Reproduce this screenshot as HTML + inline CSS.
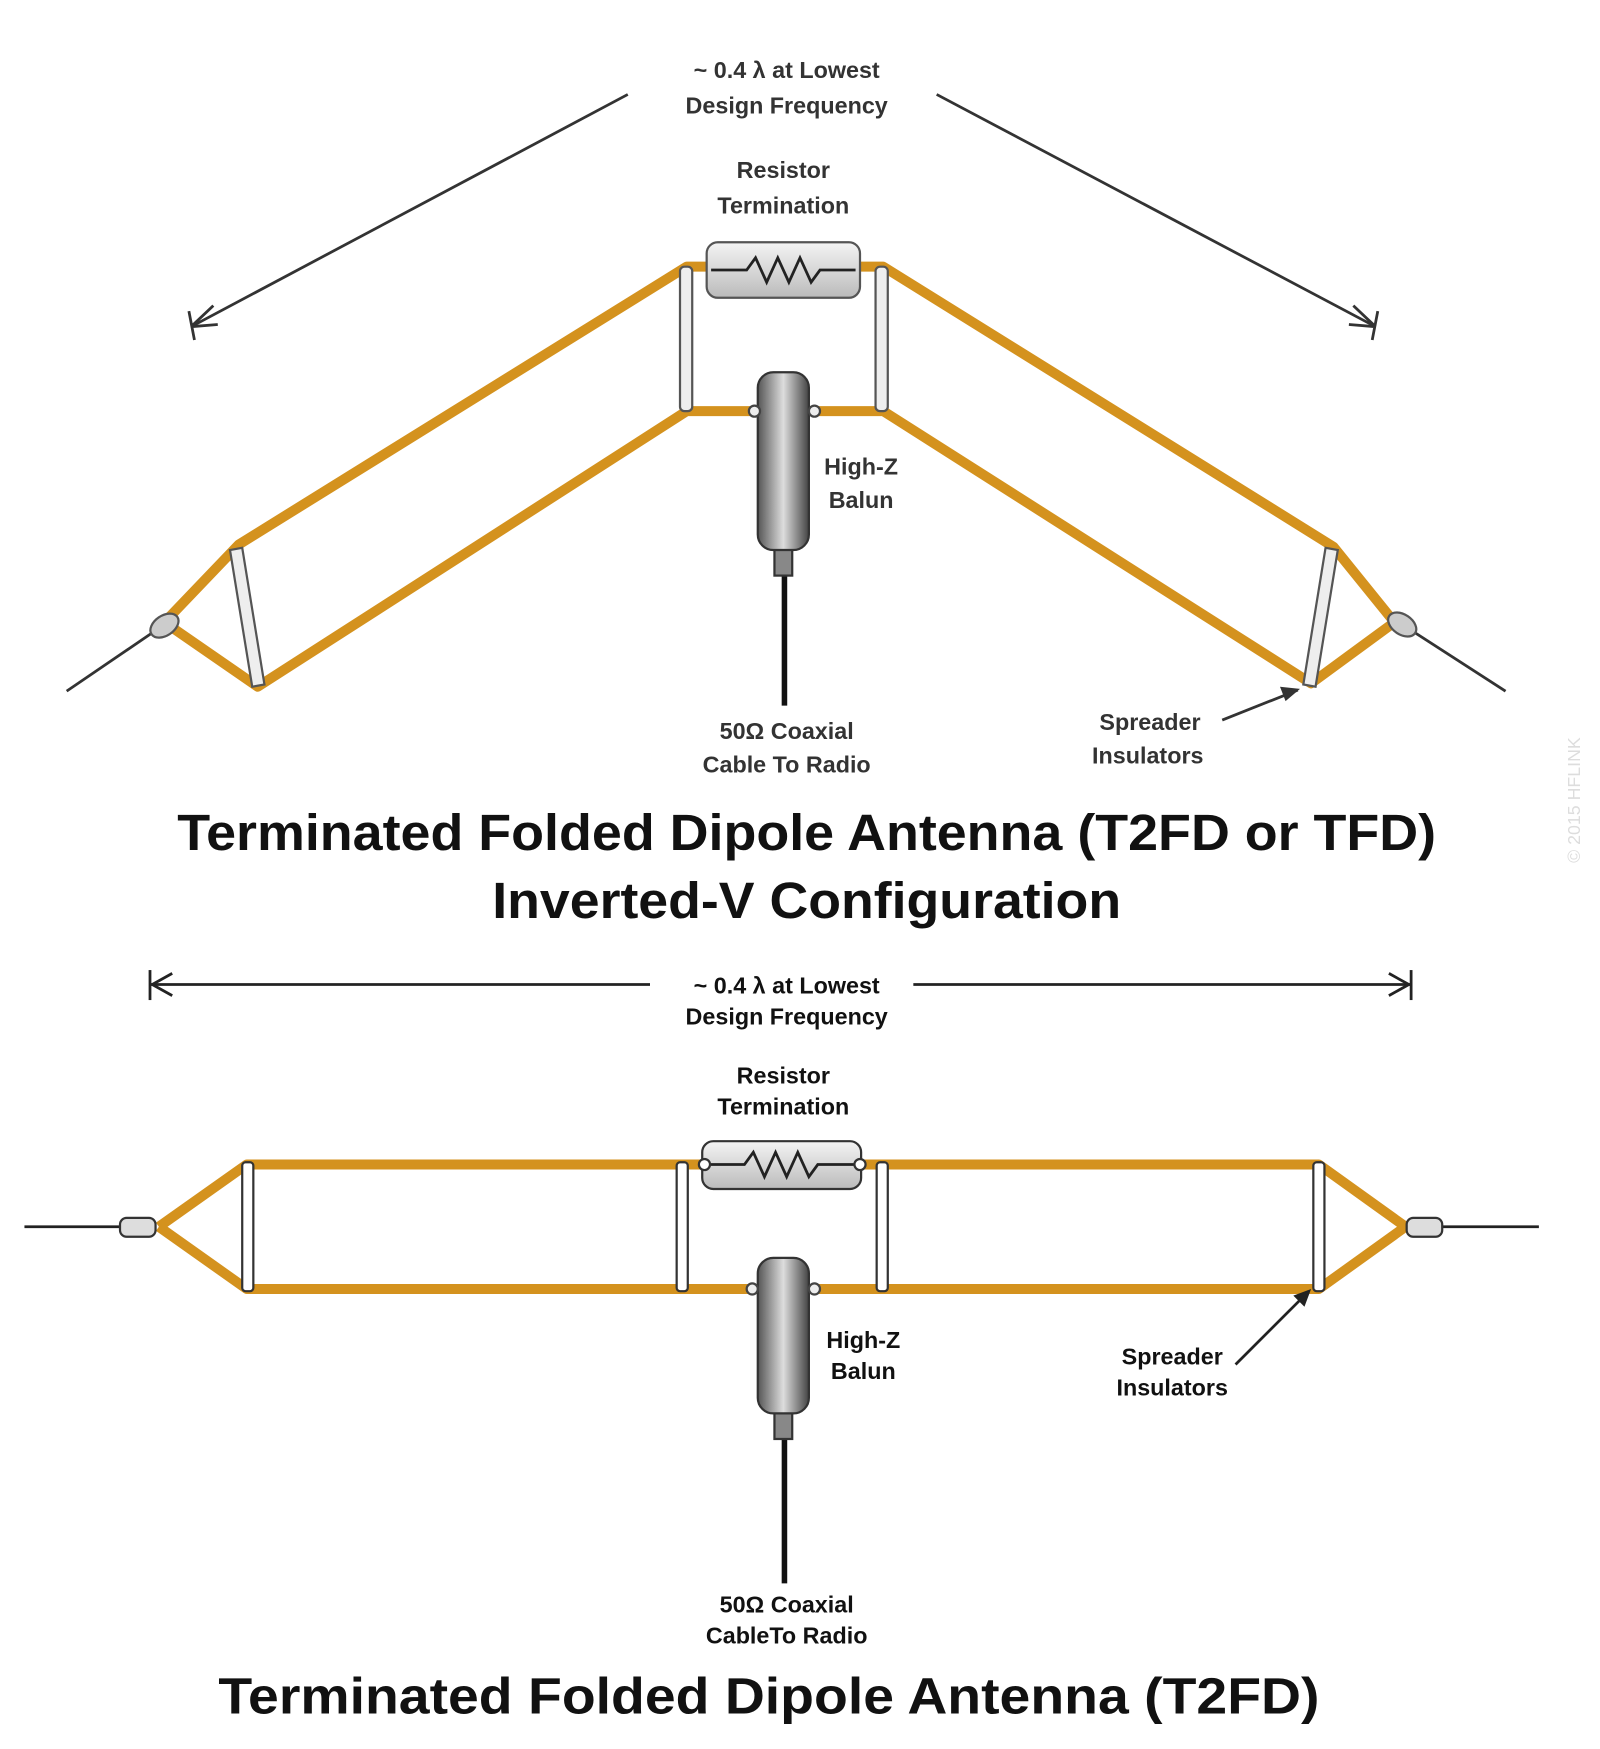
<!DOCTYPE html>
<html><head><meta charset="utf-8"><style>
html,body{margin:0;padding:0;background:#fff}
svg{display:block}
text{font-family:"Liberation Sans",sans-serif;fill:#111;text-anchor:middle}
.s{font-size:21px;font-weight:bold}
.u{fill:#333}
.t{font-size:46px;font-weight:bold}
</style></head><body>
<svg width="1600" height="1749" viewBox="0 0 1440 1574" preserveAspectRatio="none" xmlns="http://www.w3.org/2000/svg">
<defs>
<linearGradient id="g" x1="0" x2="1"><stop offset="0" stop-color="#555"/><stop offset="0.5" stop-color="#ddd"/><stop offset="1" stop-color="#444"/></linearGradient>
<linearGradient id="r" x1="0" y1="0" x2="0" y2="1"><stop offset="0" stop-color="#f4f4f4"/><stop offset="1" stop-color="#bbb"/></linearGradient>
</defs>
<!-- TOP -->
<g stroke="#333" stroke-width="2.5" fill="none">
<line x1="565" y1="85" x2="172" y2="294"/><path d="M170 280 L175 306 M172 294 L192 275 M172 294 L196 292"/>
<line x1="843" y1="85" x2="1238" y2="294"/><path d="M1240 280 L1235 306 M1238 294 L1214 292 M1238 294 L1218 275"/>
<line x1="60" y1="622" x2="148" y2="562"/><line x1="1262" y1="562" x2="1355" y2="622"/>
</g>
<text class="s u" x="708" y="70">~ 0.4 λ at Lowest</text>
<text class="s u" x="708" y="102">Design Frequency</text>
<text class="s u" x="705" y="160">Resistor</text>
<text class="s u" x="705" y="192">Termination</text>
<g stroke="#d4921e" stroke-width="9" fill="none" stroke-linejoin="round">
<polyline points="148,560 215,490 618,240 795,240 1200,492 1255,560 1180,615 795,370 618,370 232,618 148,560"/>
</g>
<g stroke="#555" stroke-width="2" fill="#eee">
<rect x="612" y="240" width="11" height="130" rx="4"/>
<rect x="788" y="240" width="11" height="130" rx="4"/>
<path d="M207 495 L218 493 L238 616 L227 618 Z"/>
<path d="M1193 493 L1204 495 L1184 618 L1173 616 Z"/>
<ellipse cx="148" cy="563" rx="14" ry="9" transform="rotate(-34 148 563)" fill="#ccc"/>
<ellipse cx="1262" cy="562" rx="14" ry="9" transform="rotate(34 1262 562)" fill="#ccc"/>
<rect x="636" y="218" width="138" height="50" rx="10" fill="url(#r)"/>
</g>
<polyline points="640,243 672,243 680,232 690,254 700,232 710,254 720,232 730,254 738,243 770,243" stroke="#222" stroke-width="2.5" fill="none"/>
<line x1="706" y1="518" x2="706" y2="635" stroke="#111" stroke-width="5"/>
<rect x="697" y="493" width="16" height="25" fill="#888" stroke="#333" stroke-width="2"/>
<rect x="682" y="335" width="46" height="160" rx="14" fill="url(#g)" stroke="#333" stroke-width="2"/>
<circle cx="679" cy="370" r="5" fill="#eee" stroke="#444" stroke-width="2"/><circle cx="733" cy="370" r="5" fill="#eee" stroke="#444" stroke-width="2"/>
<text class="s u" x="775" y="427">High-Z</text><text class="s u" x="775" y="457">Balun</text>
<text class="s u" x="708" y="665">50Ω Coaxial</text><text class="s u" x="708" y="695">Cable To Radio</text>
<text class="s u" x="1035" y="657">Spreader</text><text class="s u" x="1033" y="687">Insulators</text>
<line x1="1100" y1="648" x2="1168" y2="621" stroke="#333" stroke-width="2.5"/><path d="M1170 620 L1152 618 L1157 631 Z" fill="#333"/>
<text class="t" x="726" y="765" fill="#222" textLength="1133" lengthAdjust="spacingAndGlyphs">Terminated Folded Dipole Antenna (T2FD or TFD)</text>
<text class="t" x="726" y="826" textLength="566" lengthAdjust="spacingAndGlyphs">Inverted-V Configuration</text>
<text x="1422" y="720" transform="rotate(-90 1422 720)" style="font-size:16px;fill:#ddd">© 2015 HFLINK</text>
<!-- BOTTOM -->
<g stroke="#222" stroke-width="2.5" fill="none">
<line x1="135" y1="886" x2="585" y2="886"/><line x1="822" y1="886" x2="1270" y2="886"/>
<line x1="135" y1="873" x2="135" y2="900"/><path d="M155 876 L137 886 L155 896"/>
<line x1="1270" y1="873" x2="1270" y2="900"/><path d="M1250 876 L1268 886 L1250 896"/>
<line x1="22" y1="1104" x2="108" y2="1104"/><line x1="1298" y1="1104" x2="1385" y2="1104"/>
</g>
<text class="s" x="708" y="894">~ 0.4 λ at Lowest</text>
<text class="s" x="708" y="922">Design Frequency</text>
<text class="s" x="705" y="975">Resistor</text>
<text class="s" x="705" y="1003">Termination</text>
<g stroke="#d4921e" stroke-width="9" fill="none" stroke-linejoin="round">
<polyline points="143,1104 222,1048 1187,1048 1265,1104 1187,1160 222,1160 143,1104"/>
</g>
<g stroke="#333" stroke-width="2" fill="#fff">
<rect x="218" y="1046" width="10" height="116" rx="3"/>
<rect x="609" y="1046" width="10" height="116" rx="3"/>
<rect x="789" y="1046" width="10" height="116" rx="3"/>
<rect x="1182" y="1046" width="10" height="116" rx="3"/>
<rect x="108" y="1096" width="32" height="17" rx="6" fill="#ddd"/>
<rect x="1266" y="1096" width="32" height="17" rx="6" fill="#ddd"/>
<rect x="632" y="1027" width="143" height="43" rx="10" fill="url(#r)"/>
</g>
<polyline points="636,1048 670,1048 678,1037 688,1059 698,1037 708,1059 718,1037 728,1059 736,1048 771,1048" stroke="#222" stroke-width="2.5" fill="none"/>
<circle cx="634" cy="1048" r="5" fill="#fff" stroke="#333" stroke-width="2"/><circle cx="774" cy="1048" r="5" fill="#fff" stroke="#333" stroke-width="2"/>
<line x1="706" y1="1295" x2="706" y2="1425" stroke="#111" stroke-width="5"/>
<rect x="697" y="1270" width="16" height="25" fill="#888" stroke="#333" stroke-width="2"/>
<rect x="682" y="1132" width="46" height="140" rx="14" fill="url(#g)" stroke="#333" stroke-width="2"/>
<circle cx="677" cy="1160" r="5" fill="#eee" stroke="#444" stroke-width="2"/><circle cx="733" cy="1160" r="5" fill="#eee" stroke="#444" stroke-width="2"/>
<text class="s" x="777" y="1213">High-Z</text><text class="s" x="777" y="1241">Balun</text>
<text class="s" x="1055" y="1228">Spreader</text><text class="s" x="1055" y="1256">Insulators</text>
<line x1="1112" y1="1228" x2="1178" y2="1162" stroke="#222" stroke-width="2.5"/><path d="M1180 1160 L1164 1166 L1174 1176 Z" fill="#222"/>
<text class="s" x="708" y="1451">50Ω Coaxial</text><text class="s" x="708" y="1479">CableTo Radio</text>
<text class="t" x="692" y="1542" textLength="991" lengthAdjust="spacingAndGlyphs">Terminated Folded Dipole Antenna (T2FD)</text>
</svg>
</body></html>
